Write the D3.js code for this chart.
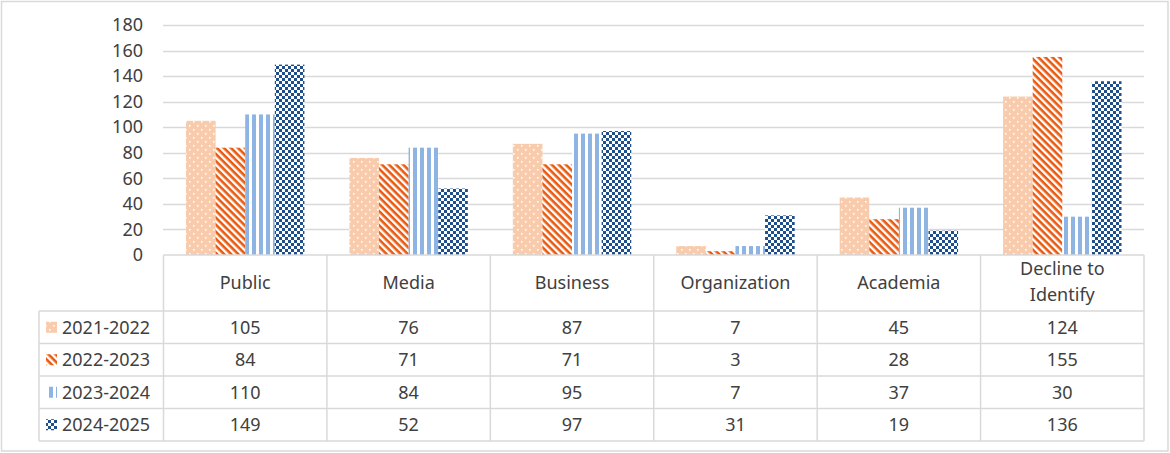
<!DOCTYPE html>
<html><head><meta charset="utf-8">
<script src="https://cdn.jsdelivr.net/npm/d3@7/dist/d3.min.js"></script>
<style>body{margin:0;background:#fff;}svg{display:block;font-family:"Noto Sans",Inter,sans-serif;}</style>
</head><body>
<script>
const categories = ["Public","Media","Business","Organization","Academia","Decline to Identify"];
const seriesNames = ["2021-2022","2022-2023","2023-2024","2024-2025"];
const s2021 = [105,76,87,7,45,124];
const s2022 = [84,71,71,3,28,155];
const s2023 = [110,84,95,7,37,30];
const s2024 = [149,52,97,31,19,136];
const seriesValues = [s2021,s2022,s2023,s2024];
const yTicks = [0,20,40,60,80,100,120,140,160,180];

const W=1170,H=453, FS=18;
const svg=d3.select("body").append("svg").attr("width",W).attr("height",H);
const defs=svg.append("defs");
// patterns
const p0=defs.append("pattern").attr("id","pat0").attr("patternUnits","userSpaceOnUse").attr("width",8).attr("height",8);
p0.append("rect").attr("width",8).attr("height",8).attr("fill","#F8CBAD");
p0.append("rect").attr("x",1).attr("y",1).attr("width",1.6).attr("height",1.6).attr("fill","#fff");
p0.append("rect").attr("x",5).attr("y",5).attr("width",1.6).attr("height",1.6).attr("fill","#fff");
const p1=defs.append("pattern").attr("id","pat1").attr("patternUnits","userSpaceOnUse").attr("width",5).attr("height",5).attr("patternTransform","rotate(45)");
p1.append("rect").attr("width",5).attr("height",5).attr("fill","#fff");
p1.append("rect").attr("width",5).attr("height",2.6).attr("fill","#E9590F");
const p2=defs.append("pattern").attr("id","pat2").attr("patternUnits","userSpaceOnUse").attr("width",7).attr("height",7);
p2.append("rect").attr("width",7).attr("height",7).attr("fill","#fff");
p2.append("rect").attr("width",4).attr("height",7).attr("fill","#8DB4E2");
const p3=defs.append("pattern").attr("id","pat3").attr("patternUnits","userSpaceOnUse").attr("width",6).attr("height",6);
p3.append("rect").attr("width",6).attr("height",6).attr("fill","#fff");
p3.append("rect").attr("width",3).attr("height",3).attr("fill","#1F4E8C");
p3.append("rect").attr("x",3).attr("y",3).attr("width",3).attr("height",3).attr("fill","#1F4E8C");
const fills=["url(#pat0)","url(#pat1)","url(#pat2)","url(#pat3)"];

const grid="#D9D9D9", txt="#404040";
// outer border
svg.append("rect").attr("x",1.5).attr("y",1.5).attr("width",1166.5).attr("height",449.5).attr("fill","none").attr("stroke",grid).attr("stroke-width",1.5);

const x0=d3.scaleBand().domain(categories).range([163.5,1144]);
const x1=d3.scaleBand().domain(seriesNames).range([0,x0.bandwidth()]).paddingInner(0).paddingOuter(0.76);
const y=d3.scaleLinear().domain([0,180]).range([255,25]);

// gridlines
svg.append("g").selectAll("line").data(yTicks.filter(d=>d>0)).join("line")
 .attr("x1",163).attr("x2",1144).attr("y1",d=>Math.round(y(d))+0.5).attr("y2",d=>Math.round(y(d))+0.5)
 .attr("stroke",grid).attr("stroke-width",1.5);
// y labels
const yAxis=d3.axisLeft(y).tickValues(yTicks).tickSize(0).tickPadding(0);
const ga=svg.append("g").attr("transform","translate(143,0)").call(yAxis);
ga.select(".domain").remove();
ga.selectAll("text").attr("font-size",FS).attr("fill",txt).attr("font-family","\"Noto Sans\",Inter,sans-serif");

// bars
seriesNames.forEach((s,si)=>{
  svg.append("g").selectAll("rect").data(seriesValues[si]).join("rect")
   .attr("x",(d,i)=>x0(categories[i])+x1(s))
   .attr("width",x1.bandwidth())
   .attr("y",d=>y(d)).attr("height",d=>y(0)-y(d))
   .attr("fill",fills[si]);
});

// data table
const rowTop=[311,343.5,376,408.5,441];
const tb=svg.append("g").attr("stroke",grid).attr("stroke-width",1.5);
const colEdges=categories.map(c=>x0(c)).concat([1144]);
tb.append("line").attr("x1",163.5).attr("x2",1144).attr("y1",255).attr("y2",255);
rowTop.forEach(yy=>tb.append("line").attr("x1",39).attr("x2",1144).attr("y1",yy).attr("y2",yy));
colEdges.forEach(xx=>tb.append("line").attr("x1",xx).attr("x2",xx).attr("y1",255).attr("y2",441));
tb.append("line").attr("x1",39).attr("x2",39).attr("y1",311).attr("y2",441);

// header labels
categories.forEach(c=>{
  const cx=x0(c)+x0.bandwidth()/2;
  const t=svg.append("text").attr("x",cx).attr("text-anchor","middle").attr("font-size",FS).attr("fill",txt);
  if(c==="Decline to Identify"){
    t.append("tspan").attr("x",cx).attr("y",275).text("Decline to");
    t.append("tspan").attr("x",cx).attr("y",301).text("Identify");
  } else t.attr("y",289).text(c);
});
// rows
seriesNames.forEach((s,si)=>{
  const cy=(rowTop[si]+rowTop[si+1])/2;
  svg.append("rect").attr("x",46).attr("y",cy-5.5).attr("width",11).attr("height",11).attr("fill",fills[si]);
  svg.append("text").attr("x",62).attr("y",cy+6.5).attr("font-size",FS).attr("fill",txt).text(s);
  svg.append("g").selectAll("text").data(seriesValues[si]).join("text")
   .attr("x",(d,i)=>x0(categories[i])+x0.bandwidth()/2).attr("y",cy+6.5)
   .attr("text-anchor","middle").attr("font-size",FS).attr("fill",txt).text(d=>d);
});
</script>
</body></html>
